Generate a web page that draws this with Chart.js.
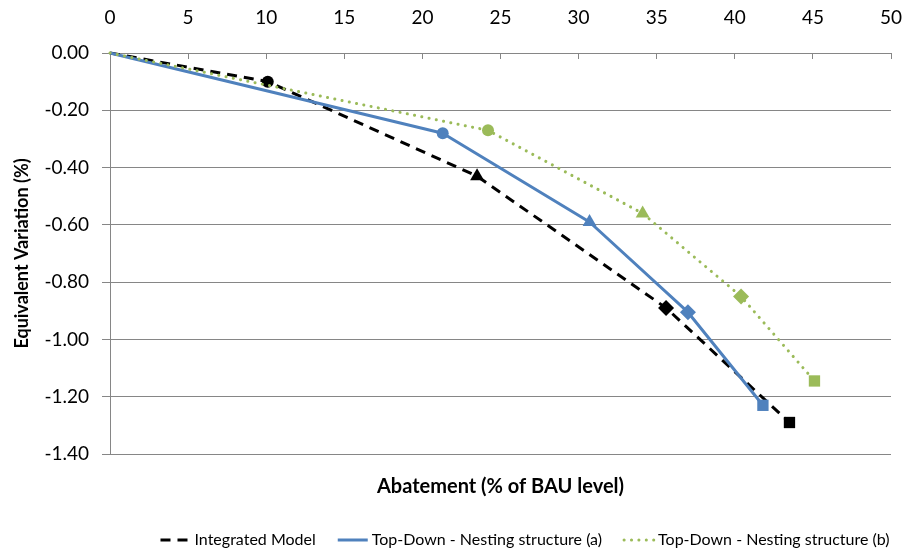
<!DOCTYPE html>
<html>
<head>
<meta charset="utf-8">
<script src="https://cdn.jsdelivr.net/npm/chart.js@4"></script>
<style>
  html, body { margin: 0; padding: 0; background: #ffffff; }
  #wrap { width: 904px; height: 550px; }
</style>
</head>
<body>
<div id="wrap"><canvas id="c" width="904" height="550"></canvas></div>
<script>
// Series names
const seriesNames = [
  'Integrated Model',
  'Top-Down - Nesting structure (a)',
  'Top-Down - Nesting structure (b)'
];

// Abatement (% of BAU level) and equivalent variation (%) per series
const abatementIntegrated = [0, 10.1, 23.5, 35.6, 43.5];
const evIntegrated        = [0, -0.10, -0.43, -0.89, -1.29];

const abatementNestA = [0, 21.3, 30.7, 37.0, 41.8];
const evNestA        = [0, -0.28, -0.59, -0.905, -1.23];

const abatementNestB = [0, 24.2, 34.1, 40.4, 45.1];
const evNestB        = [0, -0.27, -0.56, -0.85, -1.145];

// Axis ranges and titles
const xTicks = { min: 0, max: 50, step: 5 };
const yTicks = { min: -1.4, max: 0, step: 0.2 };
const xTitle = 'Abatement (% of BAU level)';
const yTitle = 'Equivalent Variation (%)';

const FONT = 'Lato';
const GRID = '#868686';

function toPoints(xs, ys) {
  return xs.map((x, i) => ({ x: x, y: ys[i] }));
}

// Marker shapes along each curve: origin unmarked, then circle, triangle, diamond, square
const markerStyles = ['circle', 'circle', 'triangle', 'rectRot', 'rect'];
const markerRadii  = [0, 6, 8, 8, 8];

function series(label, xs, ys, color, dash, cap, width, order) {
  return {
    label: label,
    data: toPoints(xs, ys),
    borderColor: color,
    backgroundColor: color,
    borderWidth: width,
    borderDash: dash,
    borderCapStyle: cap,
    borderJoinStyle: 'round',
    pointStyle: markerStyles,
    pointRadius: markerRadii,
    pointHoverRadius: markerRadii,
    pointBackgroundColor: color,
    pointBorderColor: color,
    pointBorderWidth: 0,
    tension: 0,
    clip: false,
    order: order
  };
}

// Axis titles and legend drawn around the plot
const outerTexts = {
  id: 'outerTexts',
  afterDraw(chart) {
    const { ctx, chartArea } = chart;
    ctx.save();
    ctx.fillStyle = '#000';
    ctx.textAlign = 'center';
    ctx.textBaseline = 'middle';

    // horizontal axis title, below the plot
    ctx.font = 'bold 20px ' + FONT;
    ctx.fillText(xTitle, (chartArea.left + chartArea.right) / 2, chartArea.bottom + 33);

    // vertical axis title, rotated, centred on the plot height
    ctx.save();
    ctx.font = 'bold 18px ' + FONT;
    ctx.translate(22, (chartArea.top + chartArea.bottom) / 2);
    ctx.rotate(-Math.PI / 2);
    ctx.fillText(yTitle, 0, 0);
    ctx.restore();

    // legend
    ctx.font = '16px ' + FONT;
    ctx.textAlign = 'left';
    const lineLen = 30, gapText = 4, gapItem = 22;
    const items = chart.data.datasets.map(ds => ({
      ds: ds,
      w: lineLen + gapText + ctx.measureText(ds.label).width
    }));
    const total = items.reduce((s, it) => s + it.w, 0) + gapItem * (items.length - 1);
    let x = 525 - total / 2;
    const y = 540;
    items.forEach(it => {
      const ds = it.ds;
      ctx.save();
      ctx.strokeStyle = ds.borderColor;
      ctx.lineWidth = ds.borderWidth;
      ctx.setLineDash(ds.borderDash || []);
      ctx.lineCap = ds.borderCapStyle || 'butt';
      ctx.beginPath();
      ctx.moveTo(x, y);
      ctx.lineTo(x + lineLen, y);
      ctx.stroke();
      ctx.restore();
      ctx.fillStyle = '#000';
      ctx.fillText(ds.label, x + lineLen + gapText, y);
      x += it.w + gapItem;
    });
    ctx.restore();
  }
};

new Chart(document.getElementById('c'), {
  type: 'line',
  data: {
    datasets: [
      series(seriesNames[0], abatementIntegrated, evIntegrated, '#000000', [10, 7], 'butt', 3, 3),
      series(seriesNames[1], abatementNestA, evNestA, '#4F81BD', [], 'butt', 3, 2),
      series(seriesNames[2], abatementNestB, evNestB, '#9BBB59', [0.1, 7.3], 'round', 3, 1)
    ]
  },
  options: {
    responsive: false,
    devicePixelRatio: 1,
    animation: false,
    layout: { padding: { top: 0, left: 0, right: 13, bottom: 96 } },
    plugins: {
      legend: { display: false },
      title: { display: false },
      tooltip: { enabled: false }
    },
    scales: {
      x: {
        type: 'linear',
        position: 'top',
        min: xTicks.min,
        max: xTicks.max,
        ticks: {
          stepSize: xTicks.step,
          color: '#000',
          font: { family: FONT, size: 19 },
          padding: 30,
          maxRotation: 0
        },
        grid: {
          drawOnChartArea: false,
          drawTicks: true,
          tickLength: -6,
          color: GRID,
          lineWidth: 1
        },
        border: { color: GRID, width: 1 },
        afterFit(scale) {
          scale.height = 53;
          scale.paddingLeft = 0;
          scale.paddingRight = 0;
        }
      },
      y: {
        type: 'linear',
        min: yTicks.min,
        max: yTicks.max,
        ticks: {
          stepSize: yTicks.step,
          color: '#000',
          font: { family: FONT, size: 19 },
          padding: 13,
          callback: v => (Math.abs(v) < 1e-9 ? 0 : v).toFixed(2)
        },
        grid: {
          color: GRID,
          lineWidth: 1,
          drawTicks: true,
          tickLength: 8
        },
        border: { color: GRID, width: 1 },
        afterFit(scale) {
          scale.width = 110;
          scale.paddingTop = 0;
          scale.paddingBottom = 0;
        }
      }
    }
  },
  plugins: [outerTexts]
});
</script>
</body>
</html>
